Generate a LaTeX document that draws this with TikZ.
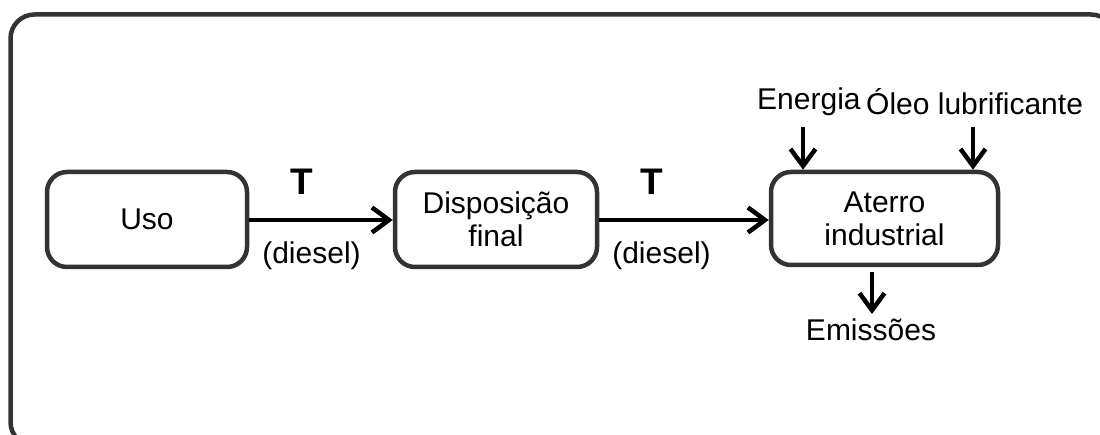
\documentclass[tikz,border=0pt]{standalone}
\usepackage{fontspec}
\setmainfont{Liberation Sans}
\usetikzlibrary{arrows.meta}
\begin{document}
\begin{tikzpicture}[x=1pt,y=-1pt,
  frame/.style={draw=black!80, line width=4.5pt, rounded corners=24pt},
  proc/.style={draw=black!80, line width=4.5pt, rounded corners=20pt, minimum width=200pt, minimum height=95pt, align=center, font=\fontsize{30}{36}\selectfont, inner sep=0pt},
  lbl/.style={font=\fontsize{30}{36}\selectfont, inner sep=0pt},
  tlbl/.style={font=\fontsize{37}{40}\selectfont\bfseries, inner sep=0pt},
  flow/.style={line width=4.5pt, -{Straight Barb[length=17pt, width=25pt, line width=4.5pt]}}
]
\useasboundingbox (0,0) rectangle (1100,435);
\begin{scope}
\clip (0,0) rectangle (1100,435);
\draw[frame] (10.5,14.5) rectangle (1115,446);
\end{scope}
\node[proc] (uso) at (147,219.5) {Uso};
\node[proc, minimum width=202pt] (disp) at (496,219.5) {Disposição\\[-3pt]final};
\node[proc, minimum width=227pt, minimum height=93pt] (aterro) at (884.5,218.5) {Aterro\\[-3pt]industrial};
\draw[flow] (uso.east |- 0,220) -- (disp.west |- 0,220);
\draw[flow] (disp.east |- 0,220) -- (aterro.west |- 0,220);
\node[tlbl] (t1) at (302,182) {T};
\node[tlbl] (t2) at (652,182) {T};
\node[lbl] (d1) at (311.5,256) {(diesel)};
\node[lbl] (d2) at (661.5,256) {(diesel)};
\node[lbl, anchor=west] (en) at (757,102) {Energia};
\node[lbl, anchor=west] (ol) at (866,102) {Óleo lubrificante};
\node[lbl] (em) at (871,330) {Emissões};
\coordinate (a1s) at (803,127);
\coordinate (a2s) at (973,127);
\draw[flow] (a1s) -- (a1s |- aterro.north);
\draw[flow] (a2s) -- (a2s |- aterro.north);
\coordinate (a3s) at (872,272);
\coordinate (a3e) at (872,314);
\draw[flow] (a3s) -- (a3e);
\end{tikzpicture}
\end{document}
